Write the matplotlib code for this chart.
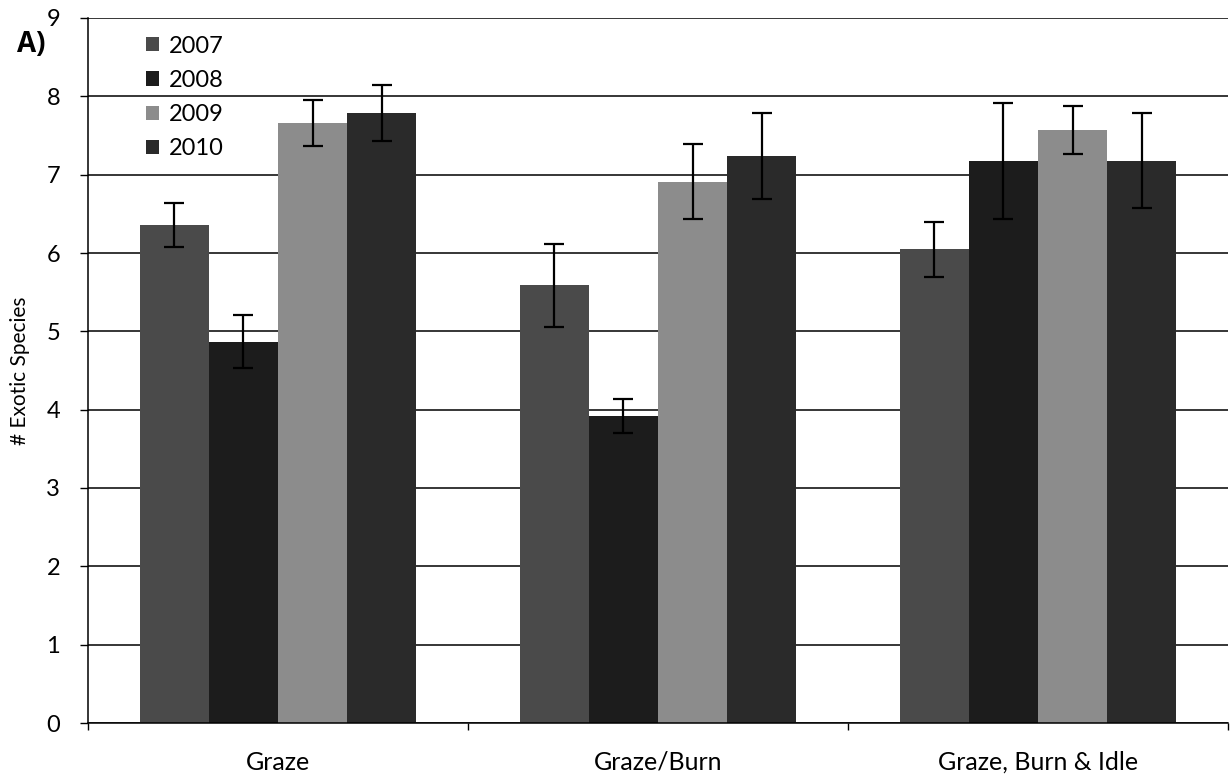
import numpy as np
import matplotlib
matplotlib.use("Agg")
from matplotlib import pyplot as plt

plt.rcParams['font.family'] = ['Lato', 'DejaVu Sans']

# exotic species counts per treatment and year
treatments = ["Graze", "Graze/Burn", "Graze, Burn & Idle"]
years = ["2007", "2008", "2009", "2010"]
mean_2007 = [6.36, 5.59, 6.05]
mean_2008 = [4.87, 3.92, 7.18]
mean_2009 = [7.66, 6.91, 7.57]
mean_2010 = [7.79, 7.24, 7.18]
err_2007 = [0.28, 0.53, 0.35]
err_2008 = [0.34, 0.22, 0.74]
err_2009 = [0.29, 0.48, 0.31]
err_2010 = [0.36, 0.55, 0.61]
colours = ["#4a4a4a", "#1c1c1c", "#8c8c8c", "#2a2a2a"]

means = [mean_2007, mean_2008, mean_2009, mean_2010]
errs = [err_2007, err_2008, err_2009, err_2010]

fig = plt.figure(figsize=(12.31, 7.79), dpi=100)
ax = fig.add_axes([88/1231, 56/779, 1140/1231, 705/779])

x = np.arange(len(treatments))
w = 0.182
for i, yr in enumerate(years):
    pos = x + (i - 1.5) * w
    ax.bar(pos, means[i], width=w, color=colours[i], label=yr, zorder=2)
    ax.errorbar(pos, means[i], yerr=errs[i], fmt='none', ecolor='black',
                elinewidth=1.6, capsize=7, capthick=1.6, zorder=3)

ax.set_ylim(0, 9)
ax.set_xlim(-0.5, 2.5)
ax.set_yticks(range(0, 10))
ax.yaxis.grid(True, color='black', linewidth=1.1, zorder=0)
ax.set_axisbelow(True)

ax.set_xticks(x)
ax.set_xticklabels(treatments, fontsize=18)
ax.tick_params(axis='x', which='major', length=0, pad=20)
ax.set_xticks([-0.5, 0.5, 1.5, 2.5], minor=True)
ax.tick_params(axis='x', which='minor', length=5, width=1, direction='out')
ax.tick_params(axis='y', labelsize=17, length=6, width=1, direction='out', pad=14)

for s in ['top', 'right']:
    ax.spines[s].set_visible(False)
ax.spines['left'].set_linewidth(1.1)
ax.spines['bottom'].set_linewidth(1.1)

ax.set_ylabel("# Exotic Species", fontsize=15, labelpad=12)

leg = ax.legend(loc='upper left', bbox_to_anchor=(0.032, 1.005), frameon=False,
                fontsize=17, handlelength=0.55, handleheight=0.55,
                handletextpad=0.45, labelspacing=0.56)

fig.text(17/1231, 1 - 52/779, "A)", fontsize=20, fontweight='bold',
         family=['Open Sans', 'DejaVu Sans'])

fig.savefig("out.png", dpi=100)
